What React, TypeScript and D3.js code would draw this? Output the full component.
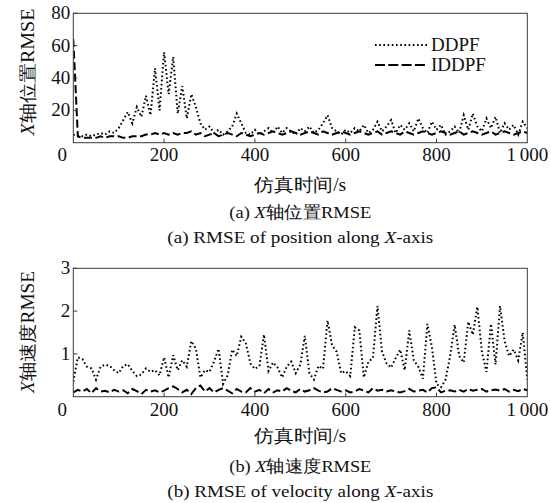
import React from 'react';
import * as d3 from 'd3';

// time grid (s)
const TIME = d3.range(0, 1001, 10);
const X_TICKS = [0, 200, 400, 600, 800, 1000];
const POS_TICKS = [20, 40, 60, 80];
const VEL_TICKS = [1, 2, 3];
const SERIES_NAMES = ['DDPF', 'IDDPF'];

// (a) X-axis position RMSE
const POS_DDPF = [
  5, 4, 4, 5, 4, 5, 6, 5, 7, 6,
  9, 14, 19, 12, 22, 16, 29, 17, 46, 20,
  56, 30, 53, 18, 35, 15, 30, 22, 12, 8,
  10, 6, 8, 5, 7, 10, 18, 12, 6, 5,
  8, 5, 7, 9, 6, 10, 6, 9, 7, 5,
  9, 7, 10, 6, 8, 12, 17, 9, 7, 5,
  8, 6, 9, 7, 11, 6, 8, 13, 7, 10,
  14, 6, 11, 8, 12, 7, 15, 9, 6, 13,
  8, 11, 5, 7, 10, 6, 17, 8, 18, 10,
  7, 15, 9, 16, 6, 12, 8, 11, 5, 13,
  9,
];
const POS_IDDPF = [
  64, 4, 3, 3, 3, 3, 4, 3, 4, 4,
  4, 3, 3, 4, 4, 4, 5, 5, 6, 5,
  6, 5, 6, 5, 6, 6, 7, 5, 6, 4,
  5, 6, 4, 5, 6, 5, 4, 6, 5, 4,
  5, 6, 5, 6, 7, 6, 5, 6, 7, 6,
  5, 6, 7, 6, 5, 7, 6, 5, 6, 7,
  6, 5, 6, 7, 6, 5, 6, 7, 5, 6,
  7, 6, 5, 7, 6, 5, 6, 7, 6, 5,
  6, 7, 6, 5, 6, 7, 5, 6, 7, 6,
  5, 6, 7, 5, 6, 7, 6, 5, 6, 7,
  6,
];

// (b) X-axis velocity RMSE
const VEL_DDPF = [
  0.35, 0.92, 0.88, 0.70, 0.66, 0.40, 0.70, 0.75, 0.72, 0.62,
  0.55, 0.72, 0.76, 0.60, 0.48, 0.52, 0.66, 0.58, 0.62, 0.50,
  0.92, 0.45, 0.97, 0.62, 0.85, 0.70, 1.30, 1.12, 0.45, 0.62,
  0.58, 0.82, 1.12, 0.30, 0.50, 1.10, 0.95, 1.40, 1.25, 0.78,
  0.65, 0.72, 1.45, 0.60, 0.80, 0.68, 0.45, 0.70, 0.82, 0.55,
  0.75, 1.42, 0.55, 0.40, 0.72, 0.65, 1.78, 1.20, 1.05, 0.55,
  0.60, 0.48, 1.62, 1.55, 0.45, 0.82, 0.90, 2.12, 1.05, 0.78,
  0.68, 0.90, 1.10, 0.62, 1.55, 0.85, 0.70, 0.42, 1.70, 1.15,
  0.30, 0.22, 0.40, 0.95, 1.68, 0.95, 0.80, 1.75, 1.45, 2.10,
  1.05, 0.58, 1.70, 0.75, 2.12, 1.30, 0.95, 1.10, 0.85, 1.50,
  0.40,
];
const VEL_IDDPF = [
  0.10, 0.16, 0.12, 0.18, 0.08, 0.20, 0.12, 0.14, 0.10, 0.16,
  0.12, 0.15, 0.08, 0.18, 0.13, 0.06, 0.16, 0.12, 0.15, 0.10,
  0.14, 0.20, 0.24, 0.18, 0.10, 0.16, 0.06, 0.20, 0.26, 0.12,
  0.20, 0.10, 0.16, 0.20, 0.14, 0.08, 0.18, 0.12, 0.10, 0.20,
  0.12, 0.16, 0.08, 0.18, 0.10, 0.15, 0.12, 0.20, 0.14, 0.10,
  0.18, 0.12, 0.15, 0.20, 0.14, 0.10, 0.12, 0.20, 0.16, 0.12,
  0.15, 0.10, 0.12, 0.18, 0.14, 0.10, 0.20, 0.14, 0.16, 0.12,
  0.15, 0.12, 0.10, 0.13, 0.18, 0.12, 0.14, 0.16, 0.10, 0.20,
  0.22, 0.10, 0.14, 0.15, 0.12, 0.16, 0.12, 0.18, 0.14, 0.16,
  0.18, 0.12, 0.15, 0.17, 0.14, 0.18, 0.12, 0.16, 0.13, 0.18,
  0.15,
];

const SERIF = 'Liberation Serif, DejaVu Serif, serif';
const FRAME = '#3a3a3a';
const DOT = '1.6,2.6';
const DASH = '8,3.5';

const L = 73.3;
const R = 527.3;

type PanelProps = {
  top: number;
  bottom: number;
  yDomain: [number, number];
  yTicks: number[];
  ddpf: number[];
  iddpf: number[];
  yLabel: string;
  yLabelY: number;
  yLabelLen: number;
  tickY: number;
  titleY: number;
  cap1Letter: string;
  cap1Text: string;
  cap1Y: number;
  cap2Text: string;
  cap2Y: number;
  legend: boolean;
  id: string;
};

function Panel(p: PanelProps) {
  const x = d3.scaleLinear().domain([0, 1000]).range([L, R]);
  const y = d3.scaleLinear().domain(p.yDomain).range([p.bottom, p.top]);
  const line = d3
    .line<number>()
    .x((_, i) => x(TIME[i]))
    .y((d) => y(d));
  const cx = (L + R) / 2;
  return (
    <g>
      <defs>
        <clipPath id={p.id}>
          <rect x={L} y={p.top} width={R - L} height={p.bottom - p.top} />
        </clipPath>
      </defs>
      <g clipPath={`url(#${p.id})`}>
        <path d={line(p.ddpf) || ''} fill="none" stroke="#000" strokeWidth={2} strokeDasharray={DOT} />
        <path d={line(p.iddpf) || ''} fill="none" stroke="#000" strokeWidth={2} strokeDasharray={DASH} />
      </g>
      <rect x={L} y={p.top} width={R - L} height={p.bottom - p.top} fill="none" stroke={FRAME} strokeWidth={1} />
      {X_TICKS.map((t) => (
        <g key={'x' + t}>
          {t > 0 && t < 1000 && <line x1={x(t)} x2={x(t)} y1={p.bottom} y2={p.bottom - 4} stroke={FRAME} />}
          <text
            x={t === 0 ? x(t) - 11 : x(t)}
            y={p.tickY}
            textAnchor="middle"
            fontFamily={SERIF}
            fontSize={19}
            fill="#111"
          >
            {t === 1000 ? '1\u2009000' : String(t)}
          </text>
        </g>
      ))}
      {p.yTicks.map((v) => (
        <g key={'y' + v}>
          <line x1={L} x2={L + 4} y1={y(v)} y2={y(v)} stroke={FRAME} />
          <text x={L - 3} y={y(v) + 6} textAnchor="end" fontFamily={SERIF} fontSize={19} fill="#111">
            {v}
          </text>
        </g>
      ))}
      <text
        transform={`translate(34,${p.yLabelY}) rotate(-90)`}
        textAnchor="middle"
        fontFamily={SERIF}
        fontSize={18}
        textLength={p.yLabelLen}
        lengthAdjust="spacingAndGlyphs"
        fill="#111"
      >
        <tspan fontStyle="italic">X</tspan>
        {p.yLabel}
      </text>
      <text
        x={cx}
        y={p.titleY}
        textAnchor="middle"
        fontFamily={SERIF}
        fontSize={18}
        textLength={92}
        lengthAdjust="spacingAndGlyphs"
        fill="#111"
      >
        仿真时间/s
      </text>
      <text
        x={cx}
        y={p.cap1Y}
        textAnchor="middle"
        fontFamily={SERIF}
        fontSize={17}
        textLength={142}
        lengthAdjust="spacingAndGlyphs"
        fill="#111"
      >
        {p.cap1Letter + ' '}
        <tspan fontStyle="italic">X</tspan>
        {p.cap1Text}
      </text>
      <text
        x={cx}
        y={p.cap2Y}
        textAnchor="middle"
        fontFamily={SERIF}
        fontSize={17}
        textLength={266}
        lengthAdjust="spacingAndGlyphs"
        fill="#111"
      >
        {p.cap2Text}
        <tspan fontStyle="italic">X</tspan>
        -axis
      </text>
      {p.legend && (
        <g>
          <line x1={375} x2={427} y1={45} y2={45} stroke="#000" strokeWidth={2} strokeDasharray={DOT} />
          <text x={431} y={51} fontFamily={SERIF} fontSize={19} fill="#111">
            {SERIES_NAMES[0]}
          </text>
          <line x1={375} x2={427} y1={65} y2={65} stroke="#000" strokeWidth={2} strokeDasharray="10,3.3" />
          <text x={431} y={71} fontFamily={SERIF} fontSize={19} fill="#111">
            {SERIES_NAMES[1]}
          </text>
        </g>
      )}
    </g>
  );
}

export default function App() {
  return (
    <svg
      width={551}
      height={503}
      viewBox="0 0 551 503"
      style={{ position: 'absolute', left: 0, top: 0, background: '#fff' }}
    >
      <rect x={0} y={0} width={551} height={503} fill="#fff" />
      <Panel
        id="clipA"
        top={13.3}
        bottom={142.7}
        yDomain={[0, 80]}
        yTicks={POS_TICKS}
        ddpf={POS_DDPF}
        iddpf={POS_IDDPF}
        yLabel="轴位置RMSE"
        yLabelY={72}
        yLabelLen={127}
        tickY={161}
        titleY={191}
        cap1Letter="(a)"
        cap1Text="轴位置RMSE"
        cap1Y={218}
        cap2Text="(a) RMSE of position along "
        cap2Y={243}
        legend={true}
      />
      <Panel
        id="clipB"
        top={268.3}
        bottom={396.7}
        yDomain={[0, 3]}
        yTicks={VEL_TICKS}
        ddpf={VEL_DDPF}
        iddpf={VEL_IDDPF}
        yLabel="轴速度RMSE"
        yLabelY={332}
        yLabelLen={122}
        tickY={416}
        titleY={442}
        cap1Letter="(b)"
        cap1Text="轴速度RMSE"
        cap1Y={472}
        cap2Text="(b) RMSE of velocity along "
        cap2Y={497}
        legend={false}
      />
    </svg>
  );
}
